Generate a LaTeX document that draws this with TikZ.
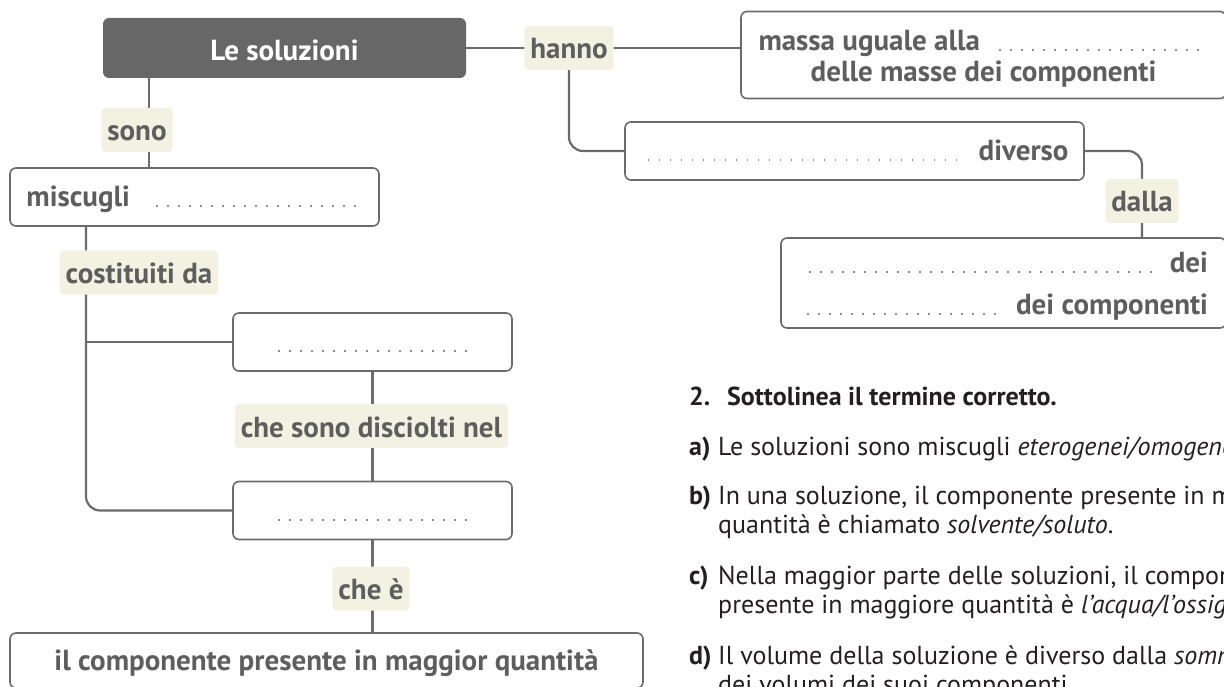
\documentclass[tikz,border=0pt]{standalone}
\usepackage{fontspec}
\setmainfont{PT Sans}
\usetikzlibrary{backgrounds}

\definecolor{linea}{HTML}{6B6B6B}
\definecolor{testo}{HTML}{5E5E5E}
\definecolor{scuro}{HTML}{676767}
\definecolor{crema}{HTML}{F3F2E2}
\definecolor{punti}{HTML}{8C8C8C}
\definecolor{inchiostro}{HTML}{231F20}

\newcommand{\puntini}{\leavevmode\cleaders\hbox to 11pt{\hss\textcolor{punti}{\rule{1.7pt}{1.7pt}}\hss}\hfill}

\tikzset{
  conn/.style={draw=linea, line width=2.2pt},
  box/.style={draw=linea, line width=1.6pt, rounded corners=6pt, fill=white, text=testo,
    font=\fontsize{29}{32}\selectfont\bfseries, inner sep=0pt, minimum height=58pt},
  unariga/.style={text height=20pt, text depth=0pt},
  titlebox/.style={fill=scuro, rounded corners=6pt, text=white, font=\fontsize{29}{32}\selectfont\bfseries,
    minimum width=363pt, minimum height=60pt, text height=26pt, text depth=0pt},
  lbl/.style={fill=crema, rounded corners=4pt, text=testo, font=\fontsize{29}{32}\selectfont\bfseries,
    inner xsep=6pt, minimum height=44pt, text height=22pt, text depth=0pt},
  riga/.style={anchor=base west, inner sep=0pt, text=inchiostro, font=\fontsize{26}{28}\selectfont},
  lettera/.style={riga, font=\fontsize{26}{28}\selectfont\bfseries},
}

\begin{document}
\begin{tikzpicture}[x=1pt, y=-1pt]
\useasboundingbox (0,0) rectangle (1224,687);
\clip (0,0) rectangle (1224,687);
% mappa
\node[titlebox] (sol) at (284.5,48) {Le soluzioni};
\node[lbl] (hanno) at (569,48) {hanno};
\node[box, minimum width=485pt, minimum height=87pt, align=center, font=\fontsize{29}{31}\selectfont\bfseries] (massa) at (983.5,55) {\hbox to 450pt{\rule{0pt}{28.5pt}massa uguale alla\hspace{10pt}\puntini}\\delle masse dei componenti};
\node[box, unariga, minimum width=459pt] (diverso) at (854.5,151) {\hbox to 428pt{\puntini\hspace{14pt}diverso}};
\node[lbl] (dalla) at (1142,201) {dalla};
\node[box, minimum width=445pt, minimum height=90pt, align=center] (dei) at (1003.5,283) {\hbox to 409pt{\rule{0pt}{27.5pt}\puntini\hspace{8pt}dei}\\[10pt]\hbox to 409pt{\puntini\hspace{12pt}dei componenti}};
\node[lbl] (sono) at (137,130) {sono};
\node[box, unariga, minimum width=369pt] (misc) at (194.5,197) {\hbox to 336pt{miscugli\hspace{19pt}\puntini}};
\node[lbl] (cost) at (139,272.5) {costituiti da};
\node[box, unariga, minimum width=279pt] (soluto) at (372.5,342) {\hbox to 205pt{\puntini}};
\node[lbl] (disc) at (371.5,426) {che sono disciolti nel};
\node[box, unariga, minimum width=279pt] (solvente) at (372.5,510.5) {\hbox to 205pt{\puntini}};
\node[lbl] (chee) at (371,588.5) {che è};
\node[box, unariga, minimum width=633pt, minimum height=55pt] (compon) at (326.5,660.5) {il componente presente in maggior quantità};
% collegamenti
\begin{scope}[on background layer]
\coordinate (asse) at (149,0);
\coordinate (tronco) at (86,0);
\draw[conn] (sol.east) -- (sol.east -| massa.west);
\draw[conn, rounded corners=14pt] (hanno.center) |- (diverso.west);
\draw[conn, rounded corners=14pt] (diverso.east) -| (dei.north -| dalla.center);
\draw[conn] (sol.south -| asse) -- (misc.north -| asse);
\draw[conn, rounded corners=14pt] (misc.south -| tronco) |- (solvente.west);
\draw[conn] (soluto.west -| tronco) -- (soluto.west);
\draw[conn] (soluto.south) -- (solvente.north);
\draw[conn] (solvente.south) -- (compon.north -| solvente.south);
\end{scope}
% esercizio 2
\node[lettera] (n2) at (689,405) {2.};
\node[lettera] (consegna) at (727,405) {Sottolinea il termine corretto.};
\node[lettera] (la) at (689,455) {a)};
\node[riga] (ra) at (718,455) {Le soluzioni sono miscugli \textit{eterogenei/omogenei}.};
\node[lettera] (lb) at (689,504) {b)};
\node[riga] (rb1) at (718,504) {In una soluzione, il componente presente in maggiore};
\node[riga] (rb2) at (718,533) {quantità è chiamato \textit{solvente/soluto}.};
\node[lettera] (lc) at (689,584) {c)};
\node[riga] (rc1) at (718,584) {Nella maggior parte delle soluzioni, il componente};
\node[riga] (rc2) at (718,613) {presente in maggiore quantità è \textit{l’acqua/l’ossigeno}.};
\node[lettera] (ld) at (689,664) {d)};
\node[riga] (rd1) at (718,664) {Il volume della soluzione è diverso dalla \textit{somma}};
\node[riga] (rd2) at (718,693) {dei volumi dei suoi componenti.};
\end{tikzpicture}
\end{document}
